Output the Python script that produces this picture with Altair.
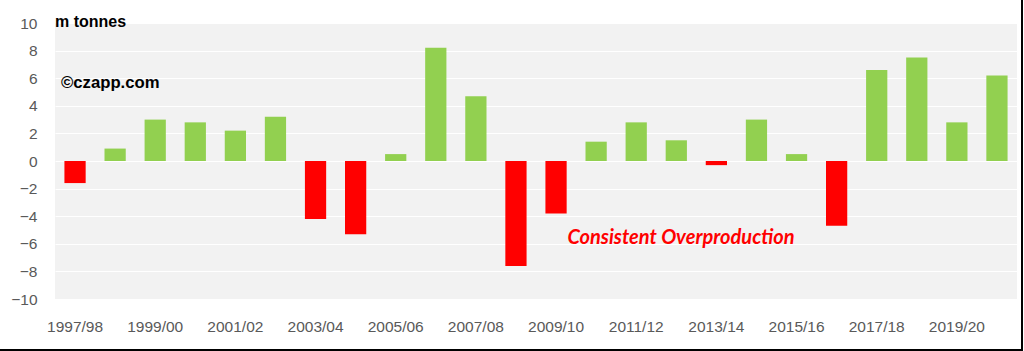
import altair as alt
import pandas as pd

seasons = ["1997/98", "1998/99", "1999/00", "2000/01", "2001/02", "2002/03",
           "2003/04", "2004/05", "2005/06", "2006/07", "2007/08", "2008/09",
           "2009/10", "2010/11", "2011/12", "2012/13", "2013/14", "2014/15",
           "2015/16", "2016/17", "2017/18", "2018/19", "2019/20", "2020/21"]
balance = [-1.6, 0.9, 3.0, 2.8, 2.2, 3.2,
           -4.2, -5.3, 0.5, 8.2, 4.7, -7.6,
           -3.8, 1.4, 2.8, 1.5, -0.3, 3.0,
           0.5, -4.7, 6.6, 7.5, 2.8, 6.2]
shown_labels = seasons[::2]
y_ticks = [-10, -8, -6, -4, -2, 0, 2, 4, 6, 8, 10]

df = pd.DataFrame({"season": seasons, "balance": balance})
df["sign"] = ["pos" if v >= 0 else "neg" for v in balance]

W, H = 962, 276
FONT = "Liberation Sans"

bars = alt.Chart(df).mark_bar().encode(
    x=alt.X("season:N", sort=seasons,
            scale=alt.Scale(paddingInner=0.47, paddingOuter=0.235),
            axis=alt.Axis(values=shown_labels, title=None, labelAngle=0,
                          ticks=False, domain=False, grid=False,
                          labelFont=FONT, labelFontSize=15.5, labelColor="#595959",
                          labelPadding=20)),
    y=alt.Y("balance:Q", scale=alt.Scale(domain=[-10, 10], nice=False),
            axis=alt.Axis(values=y_ticks, title=None, ticks=False, domain=False,
                          grid=True, gridColor="#ffffff", gridWidth=1,
                          labelFont=FONT, labelFontSize=15.5, labelColor="#595959",
                          labelPadding=18)),
    color=alt.Color("sign:N", scale=alt.Scale(domain=["pos", "neg"],
                                               range=["#92d050", "#ff0000"]),
                    legend=None),
)

unit = alt.Chart(pd.DataFrame({"t": ["m tonnes"]})).mark_text(
    font=FONT, fontSize=16, fontWeight="bold", align="left", baseline="middle",
    color="#000000").encode(x=alt.value(0), y=alt.value(-1), text="t:N")

brand = alt.Chart(pd.DataFrame({"t": ["©czapp.com"]})).mark_text(
    font=FONT, fontSize=16.7, fontWeight="bold", align="left", baseline="middle",
    color="#000000").encode(x=alt.value(6), y=alt.value(60), text="t:N")

note = alt.Chart(pd.DataFrame({"t": ["Consistent Overproduction"]})).mark_text(
    font="Lato", fontSize=20, fontWeight="bold", fontStyle="italic",
    align="center", baseline="middle",
    color="#ff0000").encode(x=alt.value(626), y=alt.value(215), text="t:N")

right_border = alt.Chart(pd.DataFrame({"a": [0]})).mark_rule(
    color="#000000", strokeWidth=2).encode(
    x=alt.value(967), y=alt.value(-23), y2=alt.value(328))
bottom_border = alt.Chart(pd.DataFrame({"a": [0]})).mark_rule(
    color="#000000", strokeWidth=2).encode(
    x=alt.value(-55), x2=alt.value(968), y=alt.value(327))

chart = alt.layer(bars, unit, brand, note, right_border, bottom_border).properties(
    width=W, height=H,
    padding={"left": 55, "top": 23, "right": 7, "bottom": 52},
    autosize=alt.AutoSizeParams(type="none"),
    background="#ffffff",
).configure_view(fill="#f2f2f2", stroke=None)

chart.save("out.html", embed_options={"renderer": "svg", "actions": False})
